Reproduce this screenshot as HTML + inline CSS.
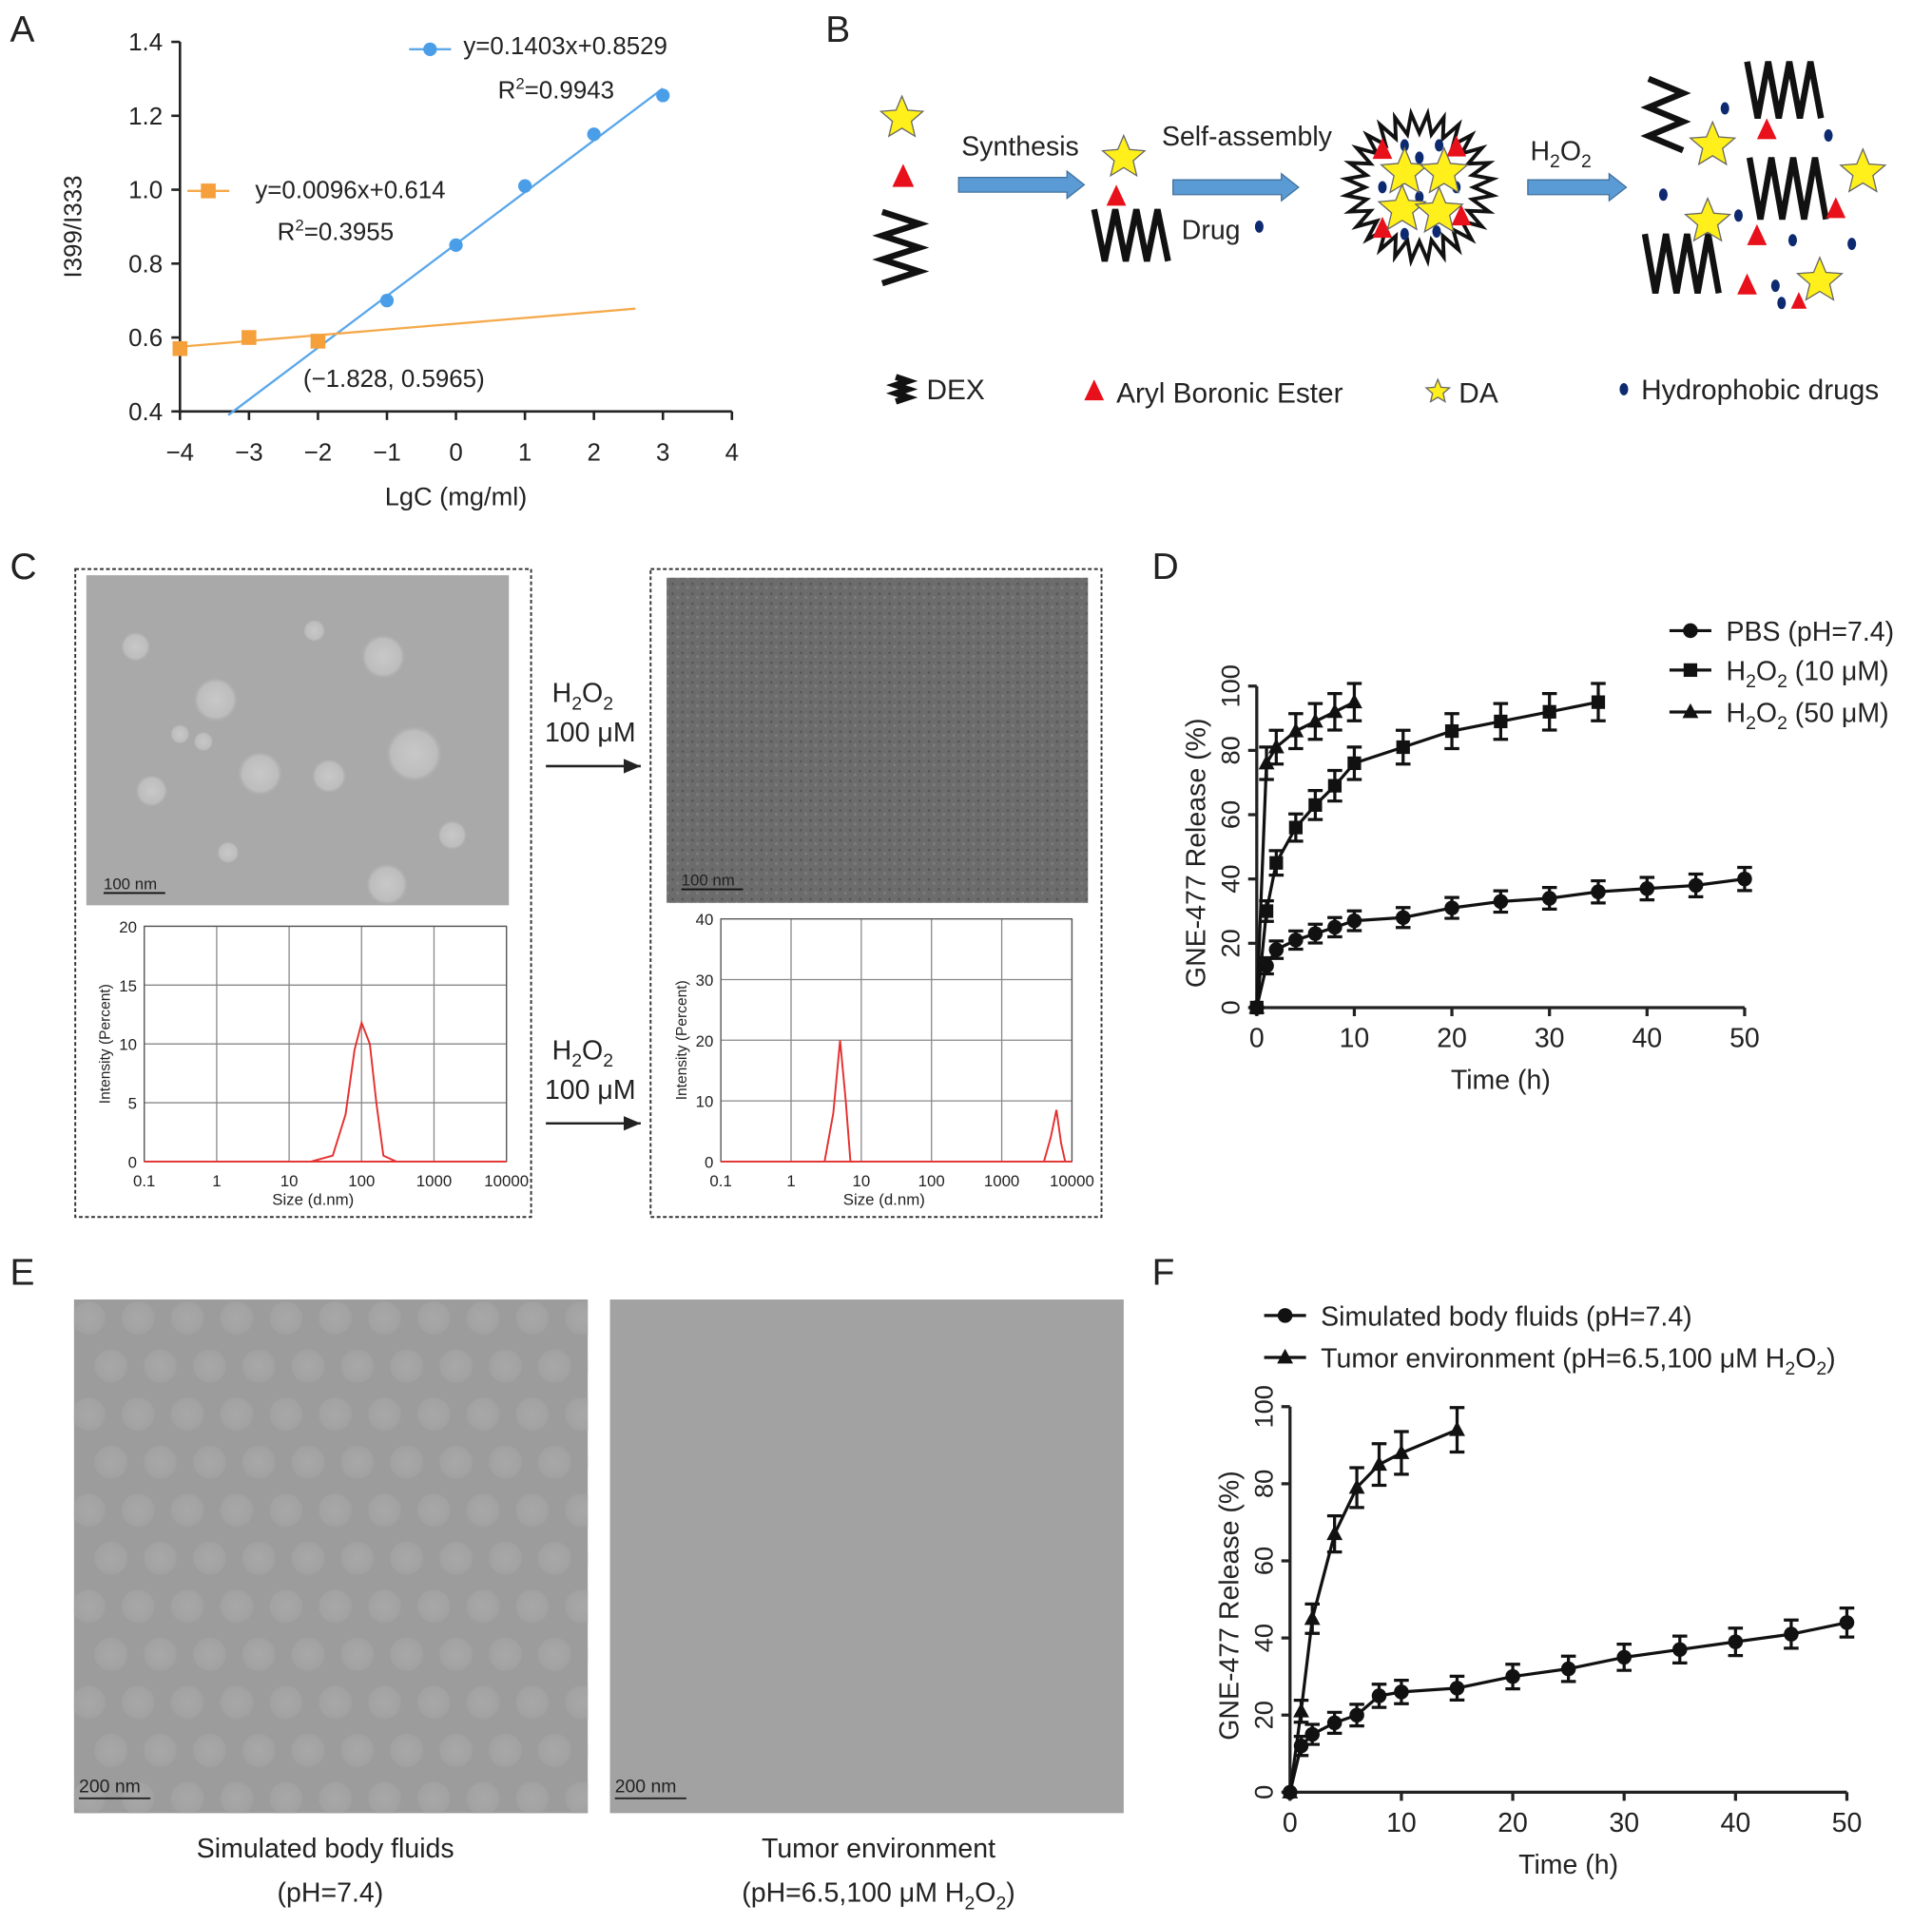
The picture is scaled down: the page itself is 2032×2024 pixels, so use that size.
<!DOCTYPE html>
<html><head><meta charset="utf-8"><style>
html,body{margin:0;padding:0;background:#fff}
svg{display:block}
text{font-family:"Liberation Sans",sans-serif;fill:#222}
</style></head><body>
<svg id="fig" xmlns="http://www.w3.org/2000/svg" width="2032" height="2024" viewBox="0 0 1568 1562">
<defs>
<radialGradient id="blob" cx="50%" cy="50%" r="50%"><stop offset="0" stop-color="#c8c8c8"/><stop offset="0.8" stop-color="#bdbdbd"/><stop offset="1" stop-color="#b0b0b0" stop-opacity="0"/></radialGradient>
<radialGradient id="blobE" cx="50%" cy="50%" r="50%"><stop offset="0" stop-color="#a8a8a8"/><stop offset="0.85" stop-color="#a2a2a2"/><stop offset="1" stop-color="#999" stop-opacity="0"/></radialGradient>
<pattern id="noise" width="8" height="8" patternUnits="userSpaceOnUse"><rect width="8" height="8" fill="#6c6c6c"/><circle cx="2" cy="2" r="1" fill="#555"/><circle cx="6" cy="5" r="1.2" fill="#7c7c7c"/></pattern>
<clipPath id="clipE"><rect x="60" y="1055" width="417" height="417"/></clipPath>
<marker id="ah" markerWidth="8" markerHeight="8" refX="7" refY="4" orient="auto"><path d="M0,1 L7,4 L0,7 z" fill="#222"/></marker>
</defs>
<g id="labels">
<text x="8" y="34" font-size="30">A</text>
<text x="670" y="34" font-size="30">B</text>
<text x="8" y="470" font-size="30">C</text>
<text x="935" y="470" font-size="30">D</text>
<text x="8" y="1043" font-size="30">E</text>
<text x="935" y="1043" font-size="30">F</text>
</g>
<g id="A"></g>
<g id="B"></g>
<g id="C"></g>
<g id="D"></g>
<g id="E"></g>
<g id="F"></g>
</svg>
<script>
// ---- Panel A data
const aBlueX=[-1,0,1,2,3];
const aBlueY=[0.70,0.85,1.01,1.15,1.255];
const aOrangeX=[-4,-3,-2];
const aOrangeY=[0.57,0.60,0.59];
const aXTicks=[-4,-3,-2,-1,0,1,2,3,4];
const aYTicks=[0.4,0.6,0.8,1.0,1.2,1.4];
// ---- Panel D data
const dTimePBS=[0,1,2,4,6,8,10,15,20,25,30,35,40,45,50];
const dPBS=[0,13,18,21,23,25,27,28,31,33,34,36,37,38,40];
const dTime10=[0,1,2,4,6,8,10,15,20,25,30,35];
const dH10=[0,30,45,56,63,69,76,81,86,89,92,95];
const dTime50=[0,1,2,4,6,8,10];
const dH50=[0,76,81,86,89,92,95];
const dXTicks=[0,10,20,30,40,50];
const dYTicks=[0,20,40,60,80,100];
// ---- Panel F data
const fTimeBody=[0,1,2,4,6,8,10,15,20,25,30,35,40,45,50];
const fBody=[0,12,15,18,20,25,26,27,30,32,35,37,39,41,44];
const fTimeTumor=[0,1,2,4,6,8,10,15];
const fTumor=[0,21,45,67,79,85,88,94];
// ---- DLS data
const dlsLeftX=[20,40,60,80,100,130,160,200,300];
const dlsLeftY=[0,0.5,4,9.5,11.8,10,5,0.5,0];
const dlsRightAX=[3,4,5,6,7,8];
const dlsRightAY=[0,8,20,10,0,0];
const dlsRightBX=[4000,5000,6000,7000,8000];
const dlsRightBY=[0,4,8.5,3,0];
const dlsXTicks=[0.1,1,10,100,1000,10000];

const NS="http://www.w3.org/2000/svg";
function el(tag,attrs,parent){const e=document.createElementNS(NS,tag);for(const k in attrs)e.setAttribute(k,attrs[k]);parent.appendChild(e);return e;}
function txt(s,x,y,size,parent,anchor,extra){const t=el('text',Object.assign({x:x,y:y,'font-size':size,'text-anchor':anchor||'start'},extra||{}),parent);t.innerHTML=s;return t;}

// ========== Panel A
(function(){
const g=document.getElementById('A');
const sx=v=>146+(v+4)*56, sy=v=>334-(v-0.4)*300;
const ax=el('path',{d:`M146,34 V334 H594`,stroke:'#222','stroke-width':2,fill:'none'},g);

aXTicks.forEach(v=>{el('line',{x1:sx(v),x2:sx(v),y1:334,y2:341,stroke:'#222','stroke-width':2},g);
 const t=txt((v<0?'\u2212'+(-v):v),sx(v),374,20,g,'middle');});
aYTicks.forEach(v=>{el('line',{x1:139,x2:146,y1:sy(v),y2:sy(v),stroke:'#222','stroke-width':2},g);
 const t=txt(v.toFixed(1),132,sy(v)+7,20,g,'end');});
let t=txt('LgC (mg/ml)',370,410,21,g,'middle');
t=txt('I399/I333',66,184,20,g,'middle',{transform:'rotate(-90 66 184)'});
let l=el('line',{x1:sx(-3.3),y1:sy(0.1403*-3.3+0.8529),x2:sx(3),y2:sy(0.1403*3+0.8529),stroke:'#5aa7ea','stroke-width':1.8},g);

l=el('line',{x1:sx(-4),y1:sy(0.575),x2:sx(2.6),y2:sy(0.678),stroke:'#f5a94a','stroke-width':1.8},g);

aBlueX.forEach((x,i)=>{const c=el('circle',{cx:sx(x),cy:sy(aBlueY[i]),r:5.5,fill:'#4a9ee8'},g);});
aOrangeX.forEach((x,i)=>{const c=el('rect',{x:sx(x)-6,y:sy(aOrangeY[i])-6,width:12,height:12,fill:'#f5a03a'},g);});
const lg=el('g',{},g);
el('line',{x1:332,x2:366,y1:40,y2:40,stroke:'#5aa7ea','stroke-width':1.8},lg);el('circle',{cx:349,cy:40,r:5.5,fill:'#4a9ee8'},lg);
txt('y=0.1403x+0.8529',376,44,20,lg);txt('R<tspan dy="-8" font-size="13">2</tspan><tspan dy="8">=0.9943</tspan>',404,80,20,lg);
el('line',{x1:152,x2:186,y1:155,y2:155,stroke:'#f5a94a','stroke-width':1.8},lg);el('rect',{x:163,y:149,width:12,height:12,fill:'#f5a03a'},lg);
txt('y=0.0096x+0.614',207,161,20,lg);txt('R<tspan dy="-8" font-size="13">2</tspan><tspan dy="8">=0.3955</tspan>',225,195,20,lg);
t=txt('(\u22121.828, 0.5965)',246,314,20,g);
})();

// ========== Panel B
(function(){
const g=document.getElementById('B');
function star(cx,cy,r,name){let p=[];for(let i=0;i<10;i++){const a=-Math.PI/2+i*Math.PI/5,rr=i%2?r*0.45:r;p.push((cx+rr*Math.cos(a)).toFixed(1)+','+(cy+rr*Math.sin(a)).toFixed(1));}
 const s=el('polygon',{points:p.join(' '),fill:'#ffef1a',stroke:'#666','stroke-width':1},g);}
function tri(cx,cy,s){const p=el('polygon',{points:`${cx},${cy-s} ${cx-s*0.8},${cy+s*0.7} ${cx+s*0.8},${cy+s*0.7}`,fill:'#e8101a'},g);}
function dot(cx,cy){const d=el('ellipse',{cx:cx,cy:cy,rx:3.5,ry:5,fill:'#0d2a70'},g);}
function zig(x,y,w,h,n,vertical,name){let p=[];for(let i=0;i<=n;i++){if(vertical)p.push((x+(i%2?w:0))+','+(y+i*h/n));else p.push((x+i*w/n)+','+(y+(i%2?h:0)));}
 const z=el('polyline',{points:p.join(' '),fill:'none',stroke:'#111','stroke-width':5,'stroke-linejoin':'miter'},g);}
function arrow(x,y,w,name){const a=el('polygon',{points:`${x},${y-6} ${x+w-14},${y-6} ${x+w-14},${y-11} ${x+w},${y} ${x+w-14},${y+11} ${x+w-14},${y+6} ${x},${y+6}`,fill:'#5b9bd5',stroke:'#41719c','stroke-width':1},g);}
star(732,96,18,'da-star-start');tri(733,144,11);zig(716,172,30,58,6,true,'dex-start');
arrow(778,150,102,'synthesis-arrow');txt('Synthesis',828,126,22,g,'middle');
star(912,128,18);tri(906,160,10);zig(888,170,60,42,7,false);
arrow(952,152,102,'self-assembly-arrow');txt('Self-assembly',1012,118,22,g,'middle');txt('Drug',959,194,22,g);dot(1022,184);
let p=[];for(let i=0;i<56;i++){const a=i*Math.PI/28,r=i%2?60:44;p.push((1152+r*Math.cos(a)).toFixed(1)+','+(152+r*Math.sin(a)).toFixed(1));}
const m=el('polygon',{points:p.join(' '),fill:'#fff',stroke:'#111','stroke-width':3},g);
tri(1122,122,10);tri(1182,120,10);tri(1122,186,10);tri(1186,176,10);
[[1140,118],[1168,118],[1122,152],[1182,152],[1152,160],[1140,190],[1166,188],[1152,128]].forEach(d=>dot(d[0],d[1]));
star(1140,140,20);star(1172,140,20);star(1138,170,20);star(1168,172,20);
arrow(1240,152,80,'h2o2-arrow');txt('H<tspan dy="6" font-size="15">2</tspan><tspan dy="-6">O</tspan><tspan dy="6" font-size="15">2</tspan>',1242,130,22,g);
zig(1338,64,28,58,5,true);zig(1418,50,60,46,7,false);zig(1420,128,62,50,7,false);zig(1335,190,60,48,7,false);
star(1390,118,19);star(1512,140,19);star(1386,180,19);star(1477,228,19);
tri(1434,106,10);tri(1490,170,10);tri(1426,192,10);tri(1418,232,10);tri(1460,245,8);
[[1400,88],[1484,110],[1350,158],[1411,175],[1455,195],[1503,198],[1441,232],[1446,246]].forEach(d=>dot(d[0],d[1]));
const lg=el('g',{},g);
zig(727,306,10,20,6,true,'legend-dex-icon');txt('DEX',752,324,23,lg);
tri(888,318,10);txt('Aryl Boronic Ester',906,327,23,lg);
star(1167,318,10,'legend-da-icon');txt('DA',1184,327,23,lg);
dot(1318,316);txt('Hydrophobic drugs',1332,324,23,lg);
})();

// ========== Panel C
(function(){
const g=document.getElementById('C');
[[61,462,370,526,'c-left-box'],[528,462,366,526,'c-right-box']].forEach(b=>{const r=el('rect',{x:b[0],y:b[1],width:b[2],height:b[3],fill:'none',stroke:'#333','stroke-width':1.5,'stroke-dasharray':'3,2'},g);});
let r=el('rect',{x:70,y:467,width:343,height:268,fill:'#a9a9a9'},g);
[[110,525,12],[175,568,18],[311,533,18],[336,612,23],[211,628,18],[267,630,14],[255,512,9],[123,642,13],[165,602,8],[367,678,12],[314,718,17],[185,692,9],[146,596,8]].forEach(c=>el('circle',{cx:c[0],cy:c[1],r:c[2],fill:'url(#blob)'},g));
r=el('rect',{x:541,y:469,width:342,height:264,fill:'url(#noise)'},g);
[[84,722,'c-scale-left'],[553,719,'c-scale-right']].forEach(s=>{const t=txt('100 nm',s[0],s[1],13,g);t.setAttribute('fill','#111');el('line',{x1:s[0],x2:s[0]+50,y1:s[1]+3,y2:s[1]+3,stroke:'#111','stroke-width':1.5},g);});
function arr(y,name){const a=el('g',{},g);
 txt('H<tspan dy="6" font-size="15">2</tspan><tspan dy="-6">O</tspan><tspan dy="6" font-size="15">2</tspan>',448,y,22,a);
 txt('100 \u03bcM',479,y+32,22,a,'middle');el('line',{x1:443,x2:520,y1:y+52,y2:y+52,stroke:'#222','stroke-width':2,'marker-end':'url(#ah)'},a);}
arr(570,'c-arrow-tem');arr(860,'c-arrow-dls');
function dls(x0,y0,w,h,ymax,yt,series,name){const d=el('g',{},g);
 const sx=v=>x0+(Math.log10(v)+1)/5*w, sy=v=>y0+h-v/ymax*h;
 dlsXTicks.forEach(v=>{el('line',{x1:sx(v),x2:sx(v),y1:y0,y2:y0+h,stroke:'#888','stroke-width':1},d);txt(String(v),sx(v),y0+h+20,13,d,'middle');});
 yt.forEach(v=>{el('line',{x1:x0,x2:x0+w,y1:sy(v),y2:sy(v),stroke:'#888','stroke-width':1},d);txt(String(v),x0-6,sy(v)+5,13,d,'end');});
 el('rect',{x:x0,y:y0,width:w,height:h,fill:'none',stroke:'#555','stroke-width':1},d);
 txt('Size (d.nm)',x0+w/2-10,y0+h+35,13,d,'middle');
 txt('Intensity (Percent)',x0-28,y0+h/2,12,d,'middle',{transform:`rotate(-90 ${x0-28} ${y0+h/2})`});
 series.forEach(s=>{const pl=el('polyline',{points:s[0].map((x,i)=>sx(x).toFixed(1)+','+sy(s[1][i]).toFixed(1)).join(' '),fill:'none',stroke:'#e53030','stroke-width':1.5},d);});
 el('line',{x1:sx(0.1),x2:sx(10000),y1:y0+h,y2:y0+h,stroke:'#e53030','stroke-width':1.5},d);}
dls(117,752,294,191,20,[0,5,10,15,20],[[dlsLeftX,dlsLeftY]],'c-dls-before');
dls(585,746,285,197,40,[0,10,20,30,40],[[dlsRightAX,dlsRightAY],[dlsRightBX,dlsRightBY]],'c-dls-after');
})();

// ========== line chart helper
function lineChart(g,ox,oy,xs,ys,xmax,series,prefix){
 const sx=v=>ox+v/xmax*xs, sy=v=>oy-v/100*ys;
 const a=el('path',{d:`M${ox},${oy-ys} V${oy} H${ox+xs}`,stroke:'#222','stroke-width':2.5,fill:'none'},g);
 dXTicks.forEach(v=>{el('line',{x1:sx(v),x2:sx(v),y1:oy,y2:oy+7,stroke:'#222','stroke-width':2.5},g);const t=txt(String(v),sx(v),oy+32,22,g,'middle');});
 dYTicks.forEach(v=>{el('line',{x1:ox-7,x2:ox,y1:sy(v),y2:sy(v),stroke:'#222','stroke-width':2.5},g);const t=txt(String(v),ox-14,sy(v),21,g,'middle',{transform:`rotate(-90 ${ox-14} ${sy(v)})`});});
 let t=txt('Time (h)',sx(25),oy+66,22,g,'middle');
 t=txt('GNE-477 Release (%)',ox-42,oy-ys/2+5,22,g,'middle',{transform:`rotate(-90 ${ox-42} ${oy-ys/2+5})`});
 series.forEach(s=>{const [X,Y,shape,name]=s;
  const pl=el('polyline',{points:X.map((x,i)=>sx(x).toFixed(1)+','+sy(Y[i]).toFixed(1)).join(' '),fill:'none',stroke:'#111','stroke-width':2.5},g);
  
  X.forEach((x,i)=>{const cx=sx(x),cy=sy(Y[i]),e=2+Y[i]*0.04;
   if(i>0){el('path',{d:`M${cx},${sy(Y[i]+e)} V${sy(Y[i]-e)} M${cx-6},${sy(Y[i]+e)} h12 M${cx-6},${sy(Y[i]-e)} h12`,stroke:'#111','stroke-width':2.5,fill:'none'},g);}
   let m;if(shape==='c')m=el('circle',{cx:cx,cy:cy,r:6,fill:'#111'},g);
   else if(shape==='s')m=el('rect',{x:cx-5.5,y:cy-5.5,width:11,height:11,fill:'#111'},g);
   else m=el('polygon',{points:`${cx},${cy-7} ${cx-6.5},${cy+5} ${cx+6.5},${cy+5}`,fill:'#111'},g);
   });
 });
}
function legendEntry(g,x,y,shape,label,size){const lg=el('g',{},g);
 el('line',{x1:x,x2:x+34,y1:y,y2:y,stroke:'#111','stroke-width':2.5},lg);
 if(shape==='c')el('circle',{cx:x+17,cy:y,r:6,fill:'#111'},lg);else if(shape==='s')el('rect',{x:x+11.5,y:y-5.5,width:11,height:11,fill:'#111'},lg);else el('polygon',{points:`${x+17},${y-7} ${x+10.5},${y+5} ${x+23.5},${y+5}`,fill:'#111'},lg);
 txt(label,x+46,y+8,size,lg);}
const H2='H<tspan dy="6" font-size="15">2</tspan><tspan dy="-6">O</tspan><tspan dy="6" font-size="15">2</tspan><tspan dy="-6">';
(function(){const g=document.getElementById('D');
lineChart(g,1020,818,396,261,50,[[dTimePBS,dPBS,'c','d-pbs'],[dTime10,dH10,'s','d-h2o2-10'],[dTime50,dH50,'t','d-h2o2-50']],'d');
legendEntry(g,1355,512,'c','PBS (pH=7.4)',22);legendEntry(g,1355,544,'s',H2+' (10 \u03bcM)</tspan>',22);legendEntry(g,1355,578,'t',H2+' (50 \u03bcM)</tspan>',22);})();
(function(){const g=document.getElementById('F');
lineChart(g,1047,1455,452,313,50,[[fTimeBody,fBody,'c','f-body-fluids'],[fTimeTumor,fTumor,'t','f-tumor']],'f');
legendEntry(g,1026,1068,'c','Simulated body fluids (pH=7.4)',22);legendEntry(g,1026,1102,'t','Tumor environment (pH=6.5,100 \u03bcM '+H2+')</tspan>',22);})();

// ========== Panel E
(function(){const g=document.getElementById('E');
let r=el('rect',{x:60,y:1055,width:417,height:417,fill:'#9c9c9c'},g);
const cg=el('g',{'clip-path':'url(#clipE)'},g);
for(let i=0;i<11;i++)for(let j=0;j<11;j++){el('circle',{cx:72+j*40+(i%2)*18,cy:1070+i*39,r:15,fill:'url(#blobE)'},cg);}
r=el('rect',{x:495,y:1055,width:417,height:417,fill:'#a2a2a2'},g);
[[64,1455,'e-scale-left'],[499,1455,'e-scale-right']].forEach(s=>{const t=txt('200 nm',s[0],s[1],15,g);t.setAttribute('fill','#222');el('line',{x1:s[0],x2:s[0]+58,y1:s[1]+5,y2:s[1]+5,stroke:'#222','stroke-width':1.5},g);});
let t=txt('Simulated body fluids',264,1508,22,g,'middle');
t=txt('(pH=7.4)',268,1544,22,g,'middle');
t=txt('Tumor environment',713,1508,22,g,'middle');
t=txt('(pH=6.5,100 \u03bcM '+H2+')</tspan>',713,1544,22,g,'middle');
})();
</script>
</body></html>
